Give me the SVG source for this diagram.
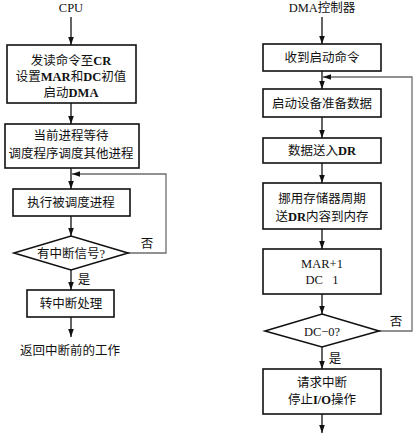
<svg xmlns="http://www.w3.org/2000/svg" width="418" height="434" viewBox="0 0 418 434">
<style>
.box{fill:#fff;stroke:#111;stroke-width:1.6}
.ln{fill:none;stroke:#111;stroke-width:1.3}
.fb{fill:none;stroke:#6e6e6e;stroke-width:1.3}
text{font-family:"Liberation Serif","Noto Sans CJK SC",serif;font-size:12.5px;fill:#111;text-anchor:middle}
.lb{font-size:12.5px}
</style>
<defs>
<marker id="ah" viewBox="0 0 10 10" refX="10" refY="5" markerWidth="8" markerHeight="8" markerUnits="userSpaceOnUse" orient="auto">
<path d="M0,1.5 L10,5 L0,8.5 Z" fill="#111"/>
</marker>
</defs>
<rect width="418" height="434" fill="#fff"/>

<g id="connectors">
<line class="ln" x1="71" y1="17" x2="71" y2="45" marker-end="url(#ah)"/>
<line class="ln" x1="71" y1="103" x2="71" y2="124" marker-end="url(#ah)"/>
<line class="ln" x1="71" y1="168" x2="71" y2="189" marker-end="url(#ah)"/>
<polyline class="fb" points="128,253 166,253 166,174 72,174" marker-end="url(#ah)"/>
<line class="ln" x1="71" y1="216" x2="71" y2="236" marker-end="url(#ah)"/>
<line class="ln" x1="71" y1="270" x2="71" y2="290" marker-end="url(#ah)"/>
<line class="ln" x1="71" y1="316" x2="71" y2="337" marker-end="url(#ah)"/>

<line class="ln" x1="322" y1="17" x2="322" y2="44" marker-end="url(#ah)"/>
<line class="ln" x1="322" y1="71" x2="322" y2="89" marker-end="url(#ah)"/>
<polyline class="fb" points="379,331 412,331 412,77 323,77" marker-end="url(#ah)"/>
<line class="ln" x1="322" y1="117" x2="322" y2="138" marker-end="url(#ah)"/>
<line class="ln" x1="322" y1="163" x2="322" y2="183" marker-end="url(#ah)"/>
<line class="ln" x1="322" y1="229" x2="322" y2="249" marker-end="url(#ah)"/>
<line class="ln" x1="322" y1="294" x2="322" y2="314" marker-end="url(#ah)"/>
<line class="ln" x1="322" y1="347" x2="322" y2="369" marker-end="url(#ah)"/>
<line class="ln" x1="322" y1="414" x2="322" y2="433" marker-end="url(#ah)"/>
<text class="lb" x="147" y="248">否</text>
<text class="lb" x="84" y="284">是</text>
<text class="lb" x="396" y="326">否</text>
<text class="lb" x="335" y="363">是</text>
</g>

<g id="title-cpu"><text x="71" y="12">CPU</text></g>
<g id="n1">
<rect class="box" x="7" y="45" width="129" height="58"/>
<text x="71" y="65">发读命令至<tspan font-weight="bold">CR</tspan></text>
<text x="71" y="81">设置<tspan font-weight="bold">MAR</tspan>和<tspan font-weight="bold">DC</tspan>初值</text>
<text x="71" y="97">启动<tspan font-weight="bold">DMA</tspan></text>
</g>
<g id="n2">
<rect class="box" x="5" y="124" width="134" height="44"/>
<text x="71" y="140">当前进程等待</text>
<text x="71" y="158">调度程序调度其他进程</text>
</g>
<g id="n3">
<rect class="box" x="13" y="189" width="117" height="27"/>
<text x="71" y="207">执行被调度进程</text>
</g>
<g id="n4">
<polygon class="box" points="14,253 71,236 128,253 71,270"/>
<text x="71" y="257.5">有中断信号?</text>
</g>
<g id="n5">
<rect class="box" x="27" y="290" width="87" height="27"/>
<text x="71" y="308">转中断处理</text>
</g>
<g id="n6"><text x="70" y="355">返回中断前的工作</text></g>

<g id="title-dma"><text x="322" y="12">DMA控制器</text></g>
<g id="m1">
<rect class="box" x="263" y="44" width="118" height="27"/>
<text x="322" y="62">收到启动命令</text>
</g>
<g id="m2">
<rect class="box" x="263" y="89" width="118" height="28"/>
<text x="322" y="107.5">启动设备准备数据</text>
</g>
<g id="m3">
<rect class="box" x="263" y="138" width="118" height="25"/>
<text x="322" y="155">数据送入<tspan font-weight="bold">DR</tspan></text>
</g>
<g id="m4">
<rect class="box" x="263" y="183" width="118" height="46"/>
<text x="322" y="203">挪用存储器周期</text>
<text x="322" y="221">送<tspan font-weight="bold">DR</tspan>内容到内存</text>
</g>
<g id="m5">
<rect class="box" x="263" y="249" width="118" height="45"/>
<text x="322" y="268">MAR+1</text>
<text x="322" y="284" xml:space="preserve">DC   1</text>
</g>
<g id="m6">
<polygon class="box" points="265,331 322,314 379,331 322,347"/>
<text x="322" y="335.5">DC−0?</text>
</g>
<g id="m7">
<rect class="box" x="263" y="369" width="118" height="45"/>
<text x="322" y="387">请求中断</text>
<text x="322" y="404">停止<tspan font-weight="bold">I/O</tspan>操作</text>
</g>
</svg>
